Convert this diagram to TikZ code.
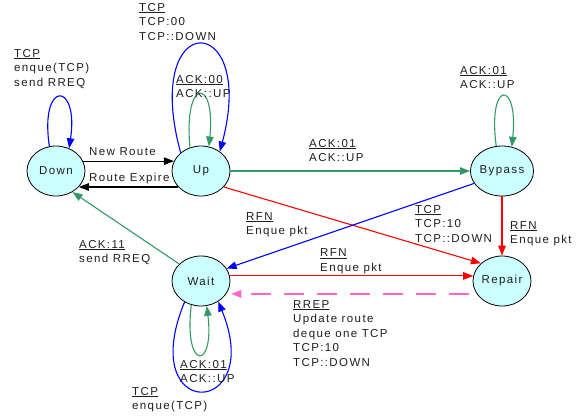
\documentclass[tikz,border=0pt]{standalone}
\usepackage{fontspec}
\setmainfont{Liberation Sans}[LetterSpace=12]
\usetikzlibrary{arrows.meta,shapes.geometric}
\definecolor{statefill}{RGB}{204,255,255}
\definecolor{ackgreen}{RGB}{51,153,102}
\definecolor{rrepink}{RGB}{255,102,204}
\definecolor{txt}{RGB}{30,30,30}
\tikzset{
  state/.style={ellipse, draw=black, line width=0.8pt, fill=statefill,
    minimum width=58pt, minimum height=50pt, inner sep=0pt,
    font=\fontsize{11.5}{14}\selectfont, text=txt},
  edge/.style={line width=1.1pt, -{Triangle[length=10pt,width=7.5pt]}},
  lbl/.style={anchor=base west, inner sep=0pt, text=txt,
    font=\fontsize{11.5}{14.6}\selectfont},
}
\newcommand{\ul}[1]{\underline{#1}}
% stacked label lines, baseline on the first line
\newcommand{\lines}[1]{\begin{tabular}[t]{@{}l@{}}#1\end{tabular}}
\begin{document}
\begin{tikzpicture}[x=1pt,y=-1pt]
\useasboundingbox (0,0) rectangle (584,418);
% states
\node[state] (down)   at (56,171)  {Down};
\node[state] (up)     at (201,171) {Up};
\node[state] (bypass) at (502,171) {Bypass};
\node[state] (wait)   at (201,281) {Wait};
\node[state] (repair) at (502,281) {Repair};

% Down <-> Up
\draw[edge, black] (down.20) -- (up.160);
\draw[edge, black] (up.215) -- (down.325);
% Up -> Bypass
\draw[edge, ackgreen] (up.east) -- (bypass.west);
% Up -> Repair
\draw[edge, red] (up.325) -- (repair.140);
% Bypass -> Wait
\draw[edge, blue] (bypass.204) -- (wait.26);
% Bypass -> Repair
\draw[edge, red] (bypass.south) -- (repair.north);
% Wait -> Repair
\draw[edge, red] (wait.10) -- (repair.170);
% Repair -> Wait (route reply)
\draw[edge, rrepink, line width=1.6pt, dash pattern=on 20pt off 13pt,
  shorten >=5pt, shorten <=8pt] (repair.207) -- (wait.333);
% Wait -> Down
\draw[edge, ackgreen] (wait.142) -- (down.308);

% self loops
\draw[edge, blue] (down.105) .. controls +(-10,-67) and +(10,-67) .. (down.60);
\draw[edge, ackgreen] (up.115) .. controls +(-7,-70) and +(7,-70) .. (up.72);
\draw[edge, blue] (up.138) .. controls +(-40,-146) and +(38,-142) .. (up.46);
\draw[edge, ackgreen] (bypass.103) .. controls +(-9,-67) and +(7,-67) .. (bypass.68);
\draw[edge, ackgreen] (wait.248) .. controls +(-8,66) and +(8,65) .. (wait.283);
\draw[edge, blue] (wait.232) .. controls +(-50,121) and +(48,117) .. (wait.310);

% transition labels
\node[lbl] (lDown)   at (14,57)   {\lines{\ul{TCP}\\enque(TCP)\\send RREQ}};
\node[lbl] (lUpTcp)  at (139,11)  {\lines{\ul{TCP}\\TCP:00\\TCP::DOWN}};
\node[lbl] (lUpAck)  at (176,83)  {\lines{\ul{ACK:00}\\ACK::UP}};
\node[lbl] (lNew)    at (89,155)  {New Route};
\node[lbl] (lExp)    at (89,181.5){Route Expire};
\node[lbl] (lByAck)  at (309,147) {\lines{\ul{ACK:01}\\ACK::UP}};
\node[lbl] (lByLoop) at (460,74)  {\lines{\ul{ACK:01}\\ACK::UP}};
\node[lbl] (lUpRep)  at (415,213) {\lines{\ul{TCP}\\TCP:10\\TCP::DOWN}};
\node[lbl] (lByRep)  at (510,229) {\lines{\ul{RFN}\\Enque pkt}};
\node[lbl] (lByWait) at (246,220) {\lines{\ul{RFN}\\Enque pkt}};
\node[lbl] (lWtDown) at (79,248)  {\lines{\ul{ACK:11}\\send RREQ}};
\node[lbl] (lWtRep)  at (320,256.5){\lines{\ul{RFN}\\Enque pkt}};
\node[lbl] (lRrep)   at (293,308) {\lines{\ul{RREP}\\Update route\\deque one TCP\\TCP:10\\TCP::DOWN}};
\node[lbl] (lWtAck)  at (180,368) {\lines{\ul{ACK:01}\\ACK::UP}};
\node[lbl] (lWtTcp)  at (132,395) {\lines{\ul{TCP}\\enque(TCP)}};
\end{tikzpicture}
\end{document}
